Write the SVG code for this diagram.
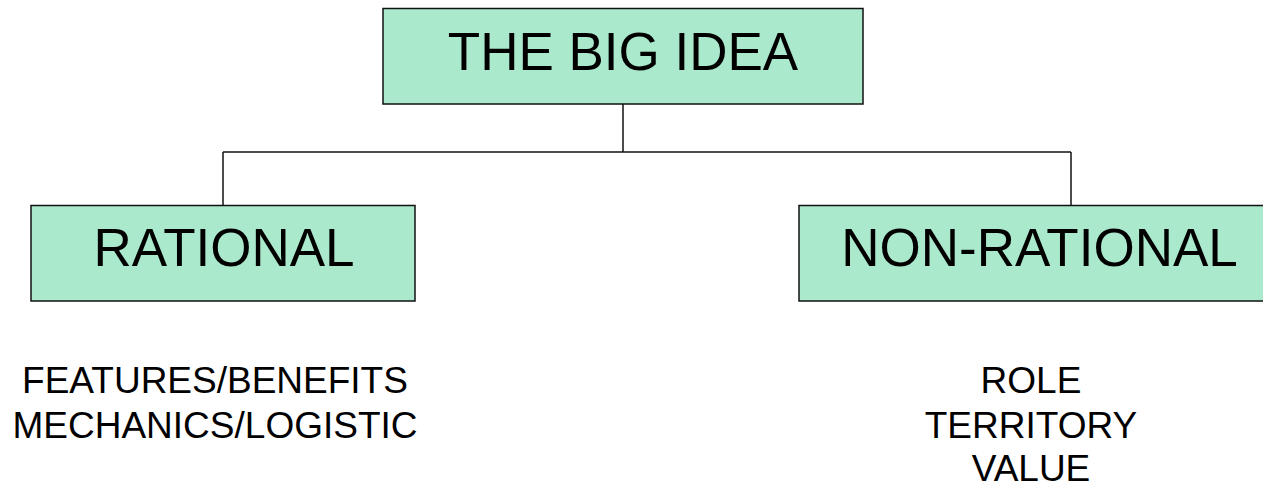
<svg xmlns="http://www.w3.org/2000/svg" width="1263" height="486" viewBox="0 0 1263 486">
  <style>
    .box { fill: #aae9cc; stroke: #111; stroke-width: 1.5; }
    .title { font-family: "Liberation Sans", Arial, sans-serif; font-size: 53px; fill: #000; text-anchor: middle; }
    .list { font-family: "Liberation Sans", Arial, sans-serif; font-size: 37px; fill: #000; text-anchor: middle; }
    .wire { fill: none; stroke: #111; stroke-width: 1.5; }
  </style>
  <rect width="1263" height="486" fill="#fff"/>

  <!-- tree connectors -->
  <g id="connectors">
    <path class="wire" d="M623,104 V152"/>
    <path class="wire" d="M223,152 H1071"/>
    <path class="wire" d="M223,152 V205"/>
    <path class="wire" d="M1071,152 V205"/>
  </g>

  <g id="big-idea">
    <rect class="box" x="383" y="8.5" width="480" height="95.5"/>
    <text class="title" x="623" y="70">THE BIG IDEA</text>
  </g>

  <g id="rational">
    <rect class="box" x="31" y="205.5" width="384" height="95.5"/>
    <text class="title" x="224" y="266">RATIONAL</text>
    <text class="list" x="215" y="393">FEATURES/BENEFITS</text>
    <text class="list" x="215" y="438">MECHANICS/LOGISTIC</text>
  </g>

  <g id="non-rational">
    <rect class="box" x="799" y="205.5" width="482" height="95.5"/>
    <text class="title" x="1039.5" y="266">NON-RATIONAL</text>
    <text class="list" x="1031" y="393">ROLE</text>
    <text class="list" x="1031" y="438">TERRITORY</text>
    <text class="list" x="1031" y="481">VALUE</text>
  </g>
</svg>
